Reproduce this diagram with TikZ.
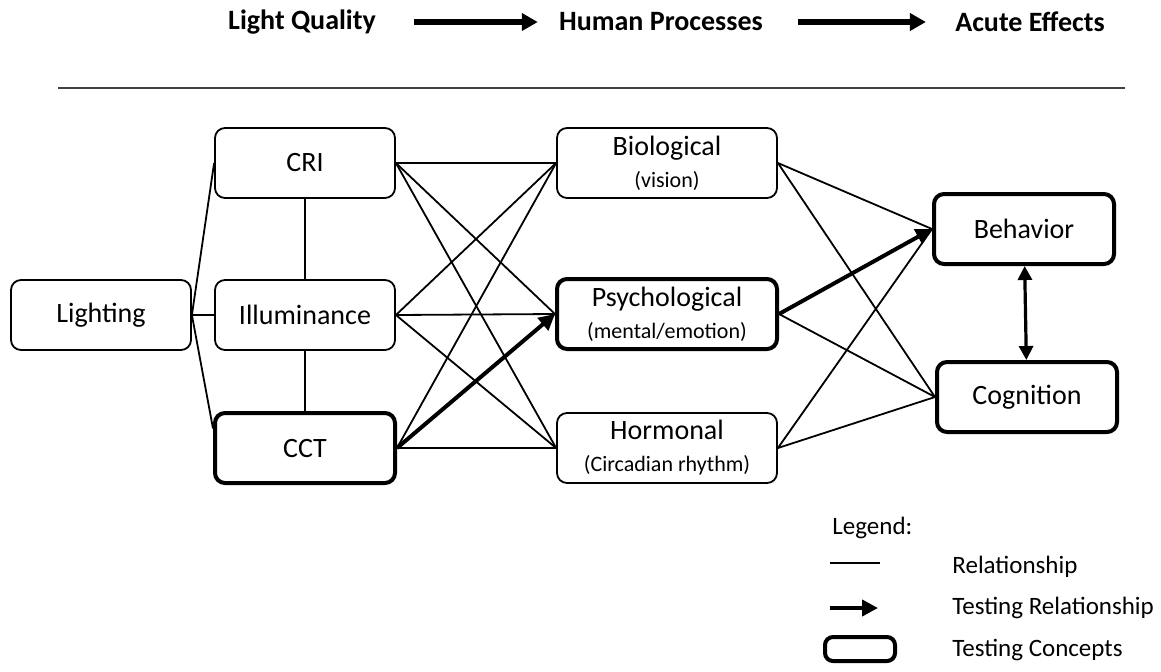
\documentclass[tikz,border=0pt]{standalone}
\usepackage{fontspec}
\setmainfont{Carlito}
\usetikzlibrary{arrows.meta, positioning}
\newcommand{\subtxt}[1]{{\fontsize{11}{12}\selectfont #1}}
\tikzset{
  block/.style={rectangle, draw=black, rounded corners=5pt, line width=0.9pt,
    minimum width=90pt, minimum height=35pt, align=center,
    font=\fontsize{14}{16}\selectfont},
  wideblock/.style={block, minimum width=110pt, inner sep=2pt},
  testblock/.style={line width=2pt},
  header/.style={font=\fontsize{14}{16}\selectfont\bfseries, inner sep=0pt},
  legendtxt/.style={font=\fontsize{12.5}{14}\selectfont, anchor=west, inner sep=0pt},
  relline/.style={line width=0.9pt},
  testarrow/.style={-{Triangle[length=8pt,width=8pt]}, line width=2pt},
  headarrow/.style={-{Triangle[length=8pt,width=8.5pt]}, line width=2.6pt},
  bothways/.style={{Triangle[length=7pt,width=7pt]}-{Triangle[length=7pt,width=7pt]}, line width=1.6pt}
}
\begin{document}
\begin{tikzpicture}[x=0.5pt, y=-0.5pt]
  \useasboundingbox (0,0) rectangle (1161,671);

  % Header row
  \node[header] (lq) at (302,22) {Light Quality};
  \node[header] (hp) at (661,22) {Human Processes};
  \node[header] (ae) at (1030,22) {Acute Effects};
  \draw[headarrow, shorten <=19pt, shorten >=10.5pt] (lq) -- (hp);
  \draw[headarrow, shorten <=17.5pt, shorten >=14.5pt] (hp) -- (ae);
  \draw[line width=1pt, color=black!75] (58,88) -- (1125,88);

  % Light quality
  \node[block] (light) at (101,315) {Lighting};
  \node[block] (cri) at (305,163) {CRI};
  \node[block] (illum) at (305,315) {Illuminance};
  \node[block, testblock] (cct) at (305,448) {CCT};

  % Human processes
  \node[wideblock] (bio) at (667,163) {Biological\\\subtxt{(vision)}};
  \node[wideblock, testblock] (psy) at (667,314) {Psychological\\\subtxt{(mental/emotion)}};
  \node[wideblock] (hor) at (667,448) {Hormonal\\\subtxt{(Circadian rhythm)}};

  % Acute effects
  \node[block, testblock] (beh) at (1024,229) {Behavior};
  \node[block, testblock] (cog) at (1027,397) {Cognition};

  % Relationships
  \draw[relline] (light.east) -- (cri.west);
  \draw[relline] (light.east) -- (illum.west);
  \draw[relline] (light.east) -- (cct.168);
  \draw[relline] (cri) -- (illum);
  \draw[relline] (illum) -- (cct);
  \foreach \a in {cri, illum, cct} {
    \foreach \b in {bio, psy, hor} {
      \draw[relline] (\a.east) -- (\b.west);
    }
  }
  \foreach \a in {bio, psy, hor} {
    \foreach \b in {beh, cog} {
      \draw[relline] (\a.east) -- (\b.west);
    }
  }

  % Testing relationships
  \draw[testarrow] (cct.east) -- (psy.west);
  \draw[testarrow] (psy.east) -- (beh.west);
  \draw[bothways] (beh) -- (cog);

  % Legend
  \node[legendtxt] (leg) at (832,528) {Legend:};
  \coordinate (r1) at (830,563);
  \coordinate (r2) at (880,563);
  \draw[relline] (r1) -- (r2);
  \node[legendtxt] (lrel) at (952,567) {Relationship};
  \coordinate (t1) at (830,608);
  \coordinate (t2) at (878,608);
  \draw[testarrow] (t1) -- (t2);
  \node[legendtxt] (ltest) at (952,608) {Testing Relationship};
  \node[draw, rounded corners=4pt, line width=2pt, minimum width=35pt, minimum height=12pt] (lbox) at (860,649) {};
  \node[legendtxt] (lconc) at (952,650) {Testing Concepts};
\end{tikzpicture}
\end{document}
